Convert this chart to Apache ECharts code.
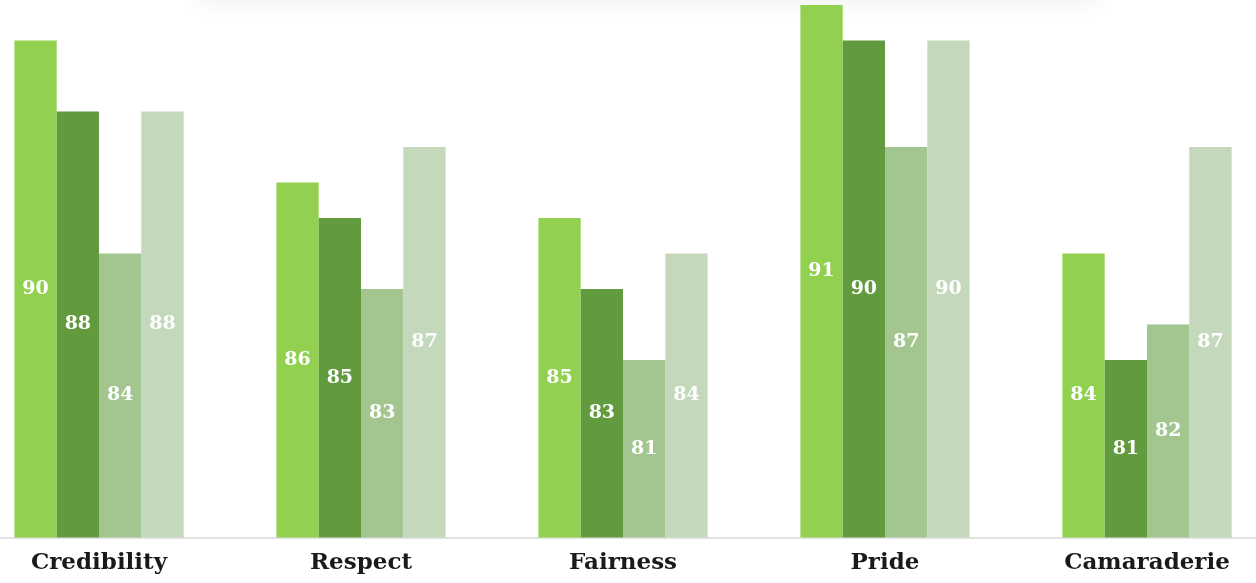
<!DOCTYPE html>
<html>
<head>
<meta charset="utf-8">
<script src="https://cdn.jsdelivr.net/npm/echarts@6/dist/echarts.min.js"></script>
<style>
  html, body { margin: 0; padding: 0; background: #fff; overflow: hidden; width: 1256px; height: 583px; }
  #wrap { position: relative; width: 1256px; height: 583px; overflow: hidden; }
  #chart { position: absolute; left: -31.7px; top: 0; width: 1310.2px; height: 583px; }
</style>
</head>
<body>
<div id="wrap"><div id="chart"></div></div>
<script>
// Survey dimension scores, four groups per dimension
const categories = ['Credibility', 'Respect', 'Fairness', 'Pride', 'Camaraderie'];
const seriesA = [90, 86, 85, 91, 84];
const seriesB = [88, 85, 83, 90, 81];
const seriesC = [84, 83, 81, 87, 82];
const seriesD = [88, 87, 84, 90, 87];

const colors = ['#92D050', '#629A3E', '#A3C590', '#C4D8BC'];

const labelStyle = {
  show: true,
  position: 'inside',
  color: '#ffffff',
  fontFamily: 'DejaVu Serif',
  fontWeight: 'bold',
  fontSize: 19
};

function makeSeries(data, i) {
  return {
    type: 'bar',
    data: data,
    barWidth: 42.3,
    barGap: '0%',
    itemStyle: { color: colors[i] },
    label: labelStyle
  };
}

const chart = echarts.init(document.getElementById('chart'));
chart.setOption({
  animation: false,
  grid: { left: 0, right: 0, top: 5, bottom: 45.5, containLabel: false },
  graphic: [{
    type: 'rect',
    left: 230, top: -20,
    shape: { width: 900, height: 20 },
    style: { fill: '#ffffff', shadowBlur: 22, shadowColor: 'rgba(0,0,0,0.07)', shadowOffsetY: 1 },
    z: -1
  }],
  xAxis: {
    type: 'category',
    data: categories,
    axisLine: { lineStyle: { color: '#d9d9d9', width: 1.5 } },
    axisTick: { show: false },
    axisLabel: {
      color: '#1a1a1a',
      fontFamily: 'DejaVu Serif',
      fontWeight: 'bold',
      fontSize: 23,
      margin: 14
    }
  },
  yAxis: {
    type: 'value',
    min: 76,
    max: 91,
    show: false,
    splitLine: { show: false }
  },
  series: [seriesA, seriesB, seriesC, seriesD].map(makeSeries)
});
</script>
</body>
</html>
